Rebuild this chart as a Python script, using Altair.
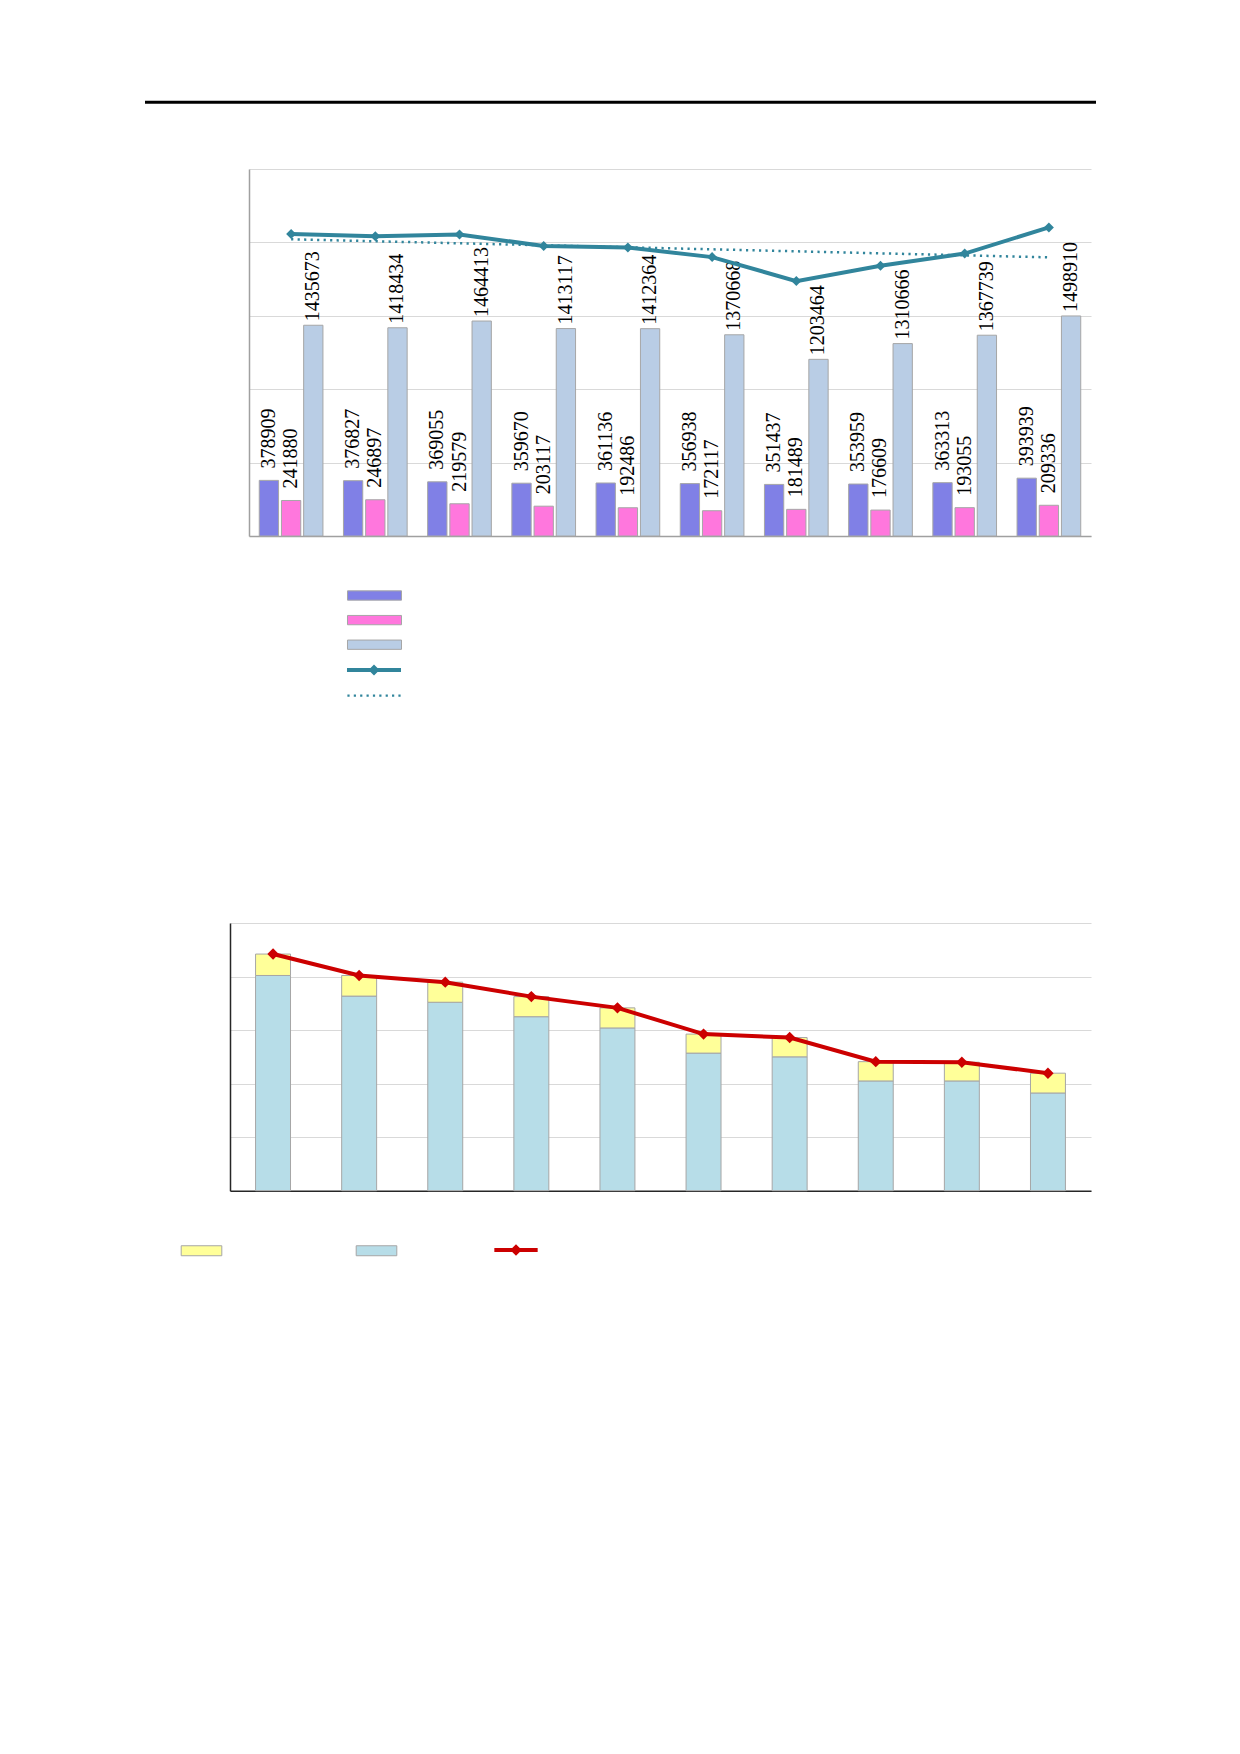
import altair as alt
import pandas as pd

# ---------------- data ----------------
periods = list(range(1, 11))
series_a = [378909, 376827, 369055, 359670, 361136, 356938, 351437, 353959, 363313, 393939]
series_b = [241880, 246897, 219579, 203117, 192486, 172117, 181489, 176609, 193055, 209336]
series_c = [1435673, 1418434, 1464413, 1413117, 1412364, 1370668, 1203464, 1310666, 1367739, 1498910]

lower_base = [80.4, 72.7, 70.4, 65.0, 60.8, 51.4, 50.0, 41.0, 41.0, 36.5]
lower_top = [8.0, 7.7, 7.5, 7.5, 7.5, 7.1, 7.2, 7.2, 7.0, 7.4]

top_bar_names = ["a", "b", "c"]
top_bar_colors = ["#8080E6", "#FF77DD", "#B9CDE5"]
top_line_names = ["total", "trend"]
low_bar_names = ["top", "base"]
low_bar_colors = ["#FFFF99", "#B7DDE8"]
low_line_names = ["sum"]

TEAL = "#31859C"
RED = "#CC0000"
EDGE = "#A6A6A6"
GRID = "#D9D9D9"
FONT = "Liberation Serif"

# the upper plot starts 19 px to the right of the lower one
INSET = 19

# ---------------- legend symbol paths ----------------
def rect_path(hw, hh):
    return f"M{-hw},{-hh}H{hw}V{hh}H{-hw}Z"

def line_diamond_path(hw, hh, d):
    return rect_path(hw, hh) + f" M{-d},0L0,{-d}L{d},0L0,{d}Z"

def dots_path(hw, s, n):
    parts = []
    step = 2 * hw / (n - 1)
    for i in range(n):
        cx = -hw + i * step
        parts.append(f"M{cx - s:.3f},{-s:.3f}H{cx + s:.3f}V{s:.3f}H{cx - s:.3f}Z")
    return " ".join(parts)

top_rect = rect_path(2.455, 0.423)
top_line_sym = line_diamond_path(2.455, 0.18, 0.5)
top_dot_sym = dots_path(2.318, 0.1, 9)
low_rect = rect_path(3.383, 0.833)
low_line_sym = line_diamond_path(3.61, 0.333, 0.97)

# ---------------- top chart ----------------
top_df = pd.DataFrame({"period": periods, "a": series_a, "b": series_b, "c": series_c})
base_top = alt.Chart(top_df)

x_top_scale = alt.Scale(paddingInner=0.2435, paddingOuter=0.1218, rangeMin=INSET)
x_top_axis = alt.Axis(labels=False, ticks=False, title=None, grid=False,
                      domainColor="#A0A0A0", domainWidth=1.5)
y_top_scale = alt.Scale(domain=[0, 2500000])
y_top_axis = alt.Axis(values=[0, 500000, 1000000, 1500000, 2000000, 2500000],
                      labels=False, ticks=False, title=None, grid=True, offset=-INSET,
                      gridColor=GRID, gridWidth=1, domainColor="#A0A0A0", domainWidth=1.5)
xoff_scale = alt.Scale(domain=top_bar_names, paddingInner=0.13, paddingOuter=0)

def xt():
    return alt.X("period:O", scale=x_top_scale, axis=x_top_axis)

def yt(field):
    return alt.Y(field, scale=y_top_scale, axis=y_top_axis)

bars_top = base_top.transform_fold(top_bar_names, as_=["series", "value"]).mark_bar(
    stroke=EDGE, strokeWidth=1
).encode(
    x=xt(),
    xOffset=alt.XOffset("series:N", scale=xoff_scale),
    y=yt("value:Q"),
    fill=alt.Fill("series:N", scale=alt.Scale(domain=top_bar_names, range=top_bar_colors),
                  legend=alt.Legend(orient="none", legendX=114 + INSET, legendY=415, direction="vertical",
                                    title=None, labelExpr="''", labelOffset=0,
                                    symbolType=top_rect, symbolSize=484,
                                    symbolStrokeColor=EDGE, symbolStrokeWidth=1,
                                    rowPadding=5.6, padding=0)),
)

labels_ab = base_top.transform_fold(["a", "b"], as_=["series", "value"]).mark_text(
    angle=270, align="left", baseline="middle", dx=12, font=FONT, fontSize=20, color="black"
).encode(
    x=xt(), xOffset=alt.XOffset("series:N", scale=xoff_scale), y=yt("value:Q"),
    text=alt.Text("value:Q", format="d"),
)

labels_c = base_top.transform_fold(["c"], as_=["series", "value"]).mark_text(
    angle=270, align="left", baseline="middle", dx=4, font=FONT, fontSize=20, color="black"
).encode(
    x=xt(), xOffset=alt.XOffset("series:N", scale=xoff_scale), y=yt("value:Q"),
    text=alt.Text("value:Q", format="d"),
)

total_line = base_top.transform_calculate(total="datum.a + datum.b + datum.c").mark_line(
    color=TEAL, strokeWidth=4,
    point=alt.OverlayMarkDef(shape="diamond", size=100, filled=True, color=TEAL, opacity=1),
).encode(x=xt(), y=yt("total:Q"))

trend_line = base_top.transform_calculate(total="datum.a + datum.b + datum.c").transform_regression(
    "period", "total"
).mark_line(color=TEAL, strokeWidth=2.5, strokeDash=[2.2, 4.3]).encode(x=xt(), y=yt("total:Q"))

legend_top_lines = alt.Chart(pd.DataFrame({"series": top_line_names})).transform_filter("false").mark_point(
    filled=True, opacity=1, color=TEAL
).encode(
    shape=alt.Shape("series:N", scale=alt.Scale(domain=top_line_names, range=[top_line_sym, top_dot_sym]),
                    legend=alt.Legend(orient="none", legendX=114 + INSET, legendY=490, direction="vertical",
                                      title=None, labelExpr="''", labelOffset=0, symbolSize=484,
                                      symbolFillColor=TEAL, symbolStrokeWidth=0, symbolOpacity=1,
                                      rowPadding=8.7, padding=0)),
)

header_rule = alt.Chart(pd.DataFrame({"k": [0]})).mark_rule(color="black", strokeWidth=3).encode(
    x=alt.value(-104 + INSET), x2=alt.value(847 + INSET), y=alt.value(-66.7)
)

top_chart = alt.layer(
    bars_top, labels_ab, labels_c, trend_line, total_line, legend_top_lines, header_rule
).properties(width=842 + INSET, height=367)

# ---------------- bottom chart ----------------
low_df = pd.DataFrame({"period": periods, "base": lower_base, "top": lower_top})
base_low = alt.Chart(low_df)

x_low_scale = alt.Scale(paddingInner=0.594, paddingOuter=0.297)
x_low_axis = alt.Axis(labels=False, ticks=False, title=None, grid=False,
                      domainColor="#262626", domainWidth=1.5)
y_low_scale = alt.Scale(domain=[0, 100])
y_low_axis = alt.Axis(values=[0, 20, 40, 60, 80, 100], labels=False, ticks=False,
                      title=None, grid=True, gridColor=GRID, gridWidth=1,
                      domainColor="#262626", domainWidth=1.5)

bars_low = base_low.transform_fold(["base", "top"], as_=["series", "value"]).transform_calculate(
    stack_order="datum.series == 'base' ? 0 : 1"
).mark_bar(stroke=EDGE, strokeWidth=1).encode(
    x=alt.X("period:O", scale=x_low_scale, axis=x_low_axis),
    y=alt.Y("value:Q", stack="zero", scale=y_low_scale, axis=y_low_axis),
    fill=alt.Fill("series:N", scale=alt.Scale(domain=low_bar_names, range=low_bar_colors),
                  legend=alt.Legend(orient="none", legendX=-35, legendY=321, direction="horizontal",
                                    title=None, labelExpr="''", labelOffset=0,
                                    symbolType=low_rect, symbolSize=144,
                                    symbolStrokeColor=EDGE, symbolStrokeWidth=1,
                                    columnPadding=130, padding=0)),
    order=alt.Order("stack_order:Q"),
)

total_low = base_low.transform_calculate(total="datum.base + datum.top").mark_line(
    color=RED, strokeWidth=4,
    point=alt.OverlayMarkDef(shape="diamond", size=130, filled=True, color=RED, opacity=1),
).encode(
    x=alt.X("period:O", scale=x_low_scale, axis=x_low_axis),
    y=alt.Y("total:Q", scale=y_low_scale, axis=y_low_axis),
)

legend_low_line = alt.Chart(pd.DataFrame({"series": low_line_names})).transform_filter("false").mark_point(
    filled=True, opacity=1, color=RED
).encode(
    shape=alt.Shape("series:N", scale=alt.Scale(domain=low_line_names, range=[low_line_sym]),
                    legend=alt.Legend(orient="none", legendX=280, legendY=321, direction="horizontal",
                                      title=None, labelExpr="''", labelOffset=0, symbolSize=144,
                                      symbolFillColor=RED, symbolStrokeWidth=0, symbolOpacity=1,
                                      padding=0)),
)

low_chart = alt.layer(bars_low, total_low, legend_low_line).properties(width=861, height=267.7)

chart = alt.vconcat(top_chart, low_chart, spacing=222).resolve_scale(
    x="independent", y="independent", xOffset="independent", fill="independent", shape="independent"
).resolve_legend(fill="independent", shape="independent").resolve_axis(
    x="independent", y="independent"
).properties(
    padding={"left": 135, "top": 92, "right": 0, "bottom": 0}
).configure_view(strokeWidth=0)

chart.save("out.html", embed_options={"renderer": "svg", "actions": False})
